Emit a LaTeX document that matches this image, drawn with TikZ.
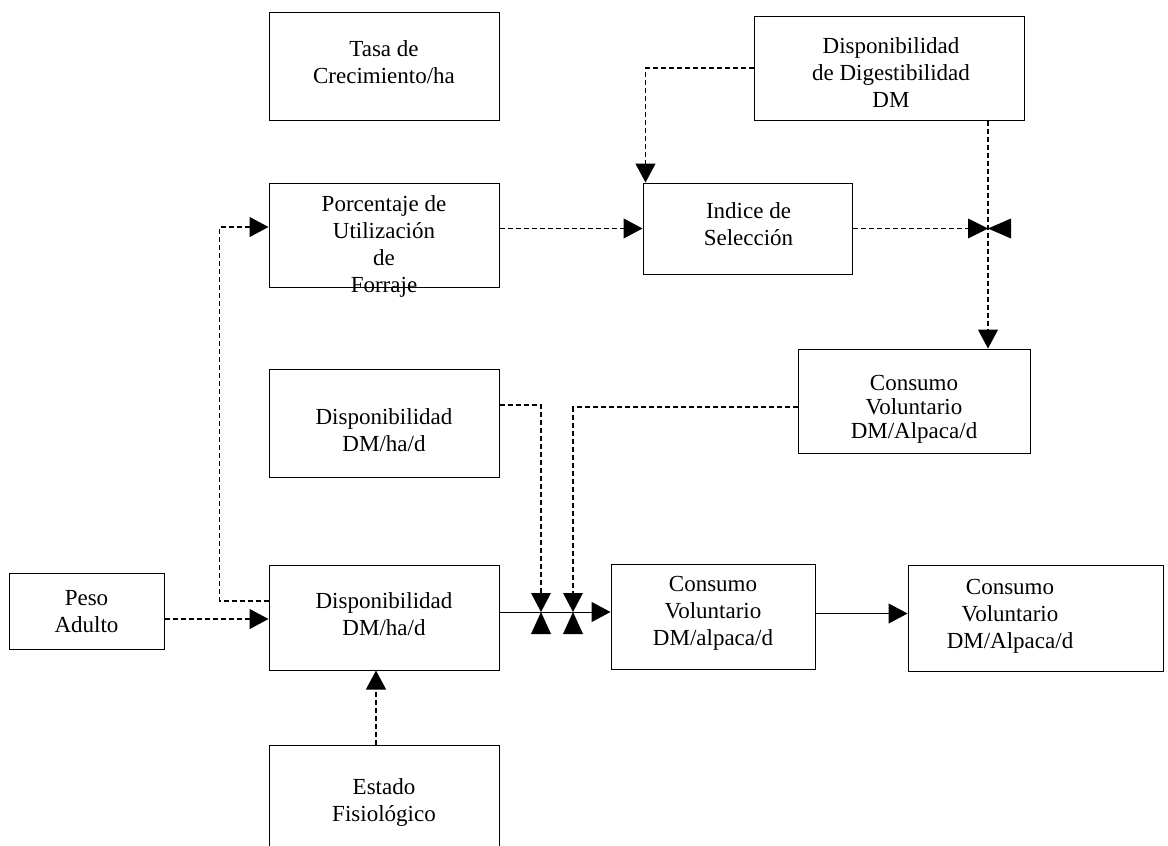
\documentclass[tikz,border=0pt]{standalone}
\usepackage{fontspec}
\setmainfont{Liberation Serif}
\usetikzlibrary{arrows.meta}
\begin{document}
\begin{tikzpicture}[x=1pt,y=-1pt,
  box/.style={draw, line width=1pt, inner sep=0pt},
  lbl/.style={align=center, inner sep=0pt, font=\fontsize{23}{27}\selectfont},
  flow/.style={line width=1.2pt, dash pattern=on 5pt off 3pt},
  solidflow/.style={line width=1pt},
  tip/.style={-{Triangle[length=19pt,width=20pt]}}]
\useasboundingbox (0,0) rectangle (1168,846);
\clip (0,0) rectangle (1168,846);

% boxes
\node[box, minimum width=230pt, minimum height=108pt] (tasa) at (384,66) {};
\node[box, minimum width=230pt, minimum height=104pt] (por)  at (384,235) {};
\node[box, minimum width=270pt, minimum height=104pt] (dig)  at (889,68) {};
\node[box, minimum width=209pt, minimum height=91pt]  (ind)  at (747.5,228.5) {};
\node[box, minimum width=232pt, minimum height=104pt] (conR) at (914,401) {};
\node[box, minimum width=230pt, minimum height=108pt] (dmid) at (384,423) {};
\node[box, minimum width=230pt, minimum height=105pt] (dlow) at (384,617.5) {};
\node[box, minimum width=204pt, minimum height=105pt] (conA) at (713,616.5) {};
\node[box, minimum width=255pt, minimum height=106pt] (conB) at (1035.5,618) {};
\node[box, minimum width=155pt, minimum height=76pt]  (peso) at (86.5,611) {};
\node[box, minimum width=230pt, minimum height=130pt] (est)  at (384,810) {};

% labels
\node[lbl] (tasa-t) at (384,62) {Tasa de\\Crecimiento/ha};
\node[lbl] (por-t)  at (384,246) {Porcentaje de\\Utilización\\de\\Forraje};
\node[lbl] (dig-t)  at (891,73) {Disponibilidad\\de Digestibilidad\\DM};
\node[lbl] (ind-t)  at (748.5,224.5) {Indice de\\Selección};
\node[lbl, font=\fontsize{23}{24}\selectfont] (conR-t) at (914,409) {Consumo\\Voluntario\\DM/Alpaca/d};
\node[lbl] (dmid-t) at (384,430.5) {Disponibilidad\\DM/ha/d};
\node[lbl] (dlow-t) at (384,614) {Disponibilidad\\DM/ha/d};
\node[lbl] (conA-t) at (713,613) {Consumo\\Voluntario\\DM/alpaca/d};
\node[lbl] (conB-t) at (1010,616) {Consumo\\Voluntario\\DM/Alpaca/d};
\node[lbl] (peso-t) at (86.5,612) {Peso\\Adulto};
\node[lbl] (est-t)  at (384,802) {Estado\\Fisiológico};

% valves
\coordinate (v1) at (988,228.5);
\coordinate (v2) at (541,612);
\coordinate (v3) at (573,612);

% connectors
\draw[flow, tip] ([yshift=-8pt]peso.east) -- ([yshift=-8pt]peso.east -| dlow.west);
\draw[flow, tip] ([yshift=16.5pt]dlow.west) -| ([xshift=-49pt,yshift=8pt]por.west) -- ([yshift=8pt]por.west);
\draw[flow, tip] (ind.west -| por.east) -- (ind.west);
\draw[flow] (ind.east) -- (v1);
\draw[flow, tip] (v1 |- dig.south) -- (v1 |- conR.north);
\draw[flow, tip] (dig.west) -| ([xshift=3pt]ind.north west);
\draw[flow] ([yshift=18pt]dmid.east) -| ([yshift=19pt]v2);
\draw[flow] ([yshift=-6pt]conR.west) -| ([yshift=19pt]v3);
\draw[solidflow] (dlow.east |- v2) -- (v3);
\draw[solidflow, tip] (v3) -- (conA.west |- v3);
\draw[solidflow, tip] ([yshift=3pt]conA.east) -- ([yshift=3pt]conA.east -| conB.west);
\draw[flow, tip] ([xshift=-8pt]est.north) -- ([xshift=-8pt]est.north |- dlow.south);

% valve symbols
\fill (v1) -- ++(-20,-10) -- ++(0,20) -- cycle;
\fill (v1) -- ++(23,-10) -- ++(0,20) -- cycle;
\foreach \v in {v2,v3}{
  \fill (\v) -- ++(-10,-19) -- ++(20,0) -- cycle;
  \fill (\v) -- ++(-10,22) -- ++(20,0) -- cycle;
}
\end{tikzpicture}
\end{document}
